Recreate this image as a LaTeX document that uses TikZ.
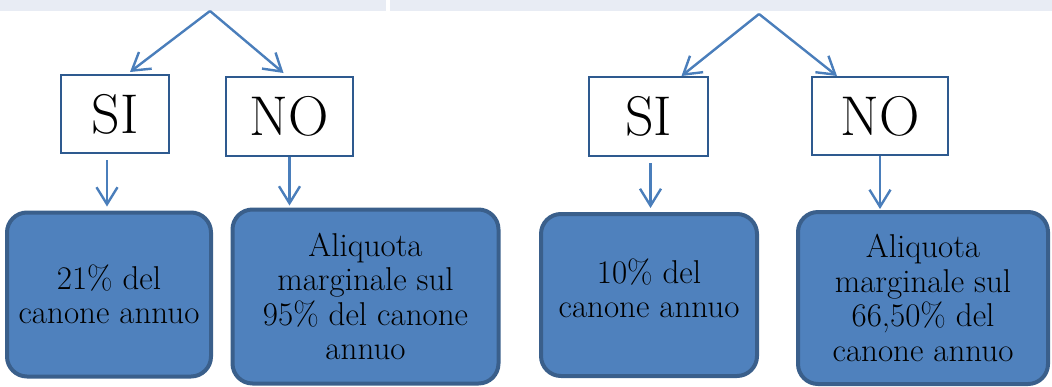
\documentclass[tikz,border=0pt]{standalone}
\usetikzlibrary{arrows.meta,calc}
\definecolor{bandgrey}{HTML}{E8ECF4}
\definecolor{arrowblue}{HTML}{4A7EBB}
\definecolor{edgeblue}{HTML}{2E5A8F}
\definecolor{fillblue}{HTML}{4F81BD}
\definecolor{rimblue}{HTML}{3A5F8B}
\tikzset{
  choice/.style={draw=edgeblue,line width=1pt,fill=white,inner sep=0pt,
    font=\fontsize{28}{32}\selectfont},
  result/.style={draw=rimblue,line width=2pt,fill=fillblue,rounded corners=10pt,
    inner sep=0pt,align=center,font=\fontsize{16.5}{17.2}\selectfont},
  flow/.style={draw=arrowblue,line width=1.2pt,
    -{Straight Barb[length=8.5pt,width=10.5pt,line width=1.2pt]}}
}
\begin{document}
\begin{tikzpicture}[x=0.5pt,y=-0.5pt]
  \useasboundingbox (0,0) rectangle (1052,386);
  % header bands
  \fill[bandgrey] (0,0) rectangle (386,11);
  \fill[bandgrey] (390,0) rectangle (1052,11);
  % left group
  \coordinate (topA) at (210,11);
  \node[choice,minimum width=54pt,minimum height=39pt] (siA) at (115,114) {SI};
  \node[choice,minimum width=63.5pt,minimum height=39.5pt] (noA) at (289.5,116.5) {NO};
  \node[result,minimum width=102pt,minimum height=82pt] (resA) at (109,294.5)
    {21\% del\\canone annuo};
  \node[result,minimum width=133pt,minimum height=87pt] (resB) at (365.5,296.5)
    {Aliquota\\marginale sul\\95\% del canone\\annuo};
  \draw[flow] (topA) -- ($(siA.north)+(15,-2)$);
  \draw[flow] (topA) -- ($(noA.north)+(-6,-3)$);
  \draw[flow] ($(siA.south)+(-8,6)$) -- ($(siA.south |- resA.north)+(-8,-4)$);
  \draw[flow] (noA.south) -- ($(noA.south |- resB.north)+(0,-2)$);
  % right group
  \coordinate (topB) at (759,14);
  \node[choice,minimum width=59.5pt,minimum height=39.5pt] (siB) at (648.5,116.5) {SI};
  \node[choice,minimum width=68pt,minimum height=39pt] (noB) at (880,116) {NO};
  \node[result,minimum width=108pt,minimum height=81pt] (resC) at (649,295) {};
  \node[align=center,font=\fontsize{16.5}{17.2}\selectfont,inner sep=0pt]
    (resCtxt) at ($(resC.center)+(0,-7)$) {10\% del\\canone annuo};
  \node[result,minimum width=125pt,minimum height=86pt] (resD) at (923,298)
    {Aliquota\\marginale sul\\66,50\% del\\canone annuo};
  \draw[flow] (topB) -- ($(siB.north)+(33,0)$);
  \draw[flow] (topB) -- ($(noB.north)+(-43,0)$);
  \draw[flow] ($(siB.south)+(2,6)$) -- ($(siB.south |- resC.north)+(2,-4)$);
  \draw[flow] (noB.south) -- ($(noB.south |- resD.north)+(0,-1)$);
\end{tikzpicture}
\end{document}
